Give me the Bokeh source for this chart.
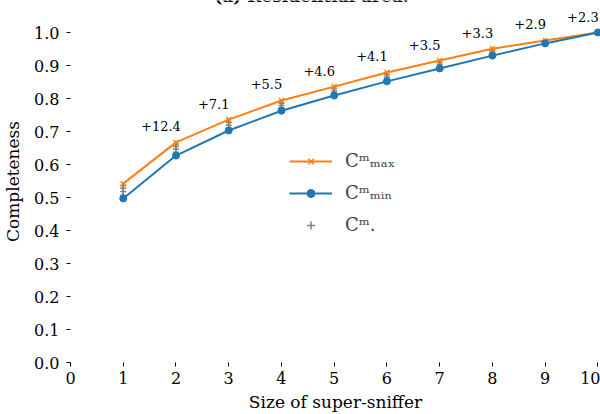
from bokeh.plotting import figure
from bokeh.models import FixedTicker, Range1d, Legend, LegendItem, Label, ColumnDataSource
from bokeh.core.properties import value
from bokeh.embed import file_html
from bokeh.resources import INLINE

sizes = [1, 2, 3, 4, 5, 6, 7, 8, 9, 10]
c_max = [0.542, 0.667, 0.736, 0.794, 0.836, 0.879, 0.915, 0.951, 0.976, 1.0]
c_min = [0.497, 0.627, 0.703, 0.763, 0.809, 0.852, 0.891, 0.930, 0.967, 1.0]
gray_x = [1, 1, 1, 1, 2, 2, 2, 2, 3, 3, 3, 4, 4, 4, 5, 5, 5, 6, 6, 6, 7, 7, 7, 8, 8, 8, 9, 9, 10]
gray_y = [0.507, 0.518, 0.528, 0.536, 0.637, 0.647, 0.655, 0.662, 0.711, 0.719, 0.727,
          0.772, 0.779, 0.786, 0.816, 0.823, 0.830, 0.858, 0.865, 0.872, 0.897, 0.903, 0.909,
          0.935, 0.941, 0.946, 0.970, 0.973, 1.0]
gain_labels = ["+12.4", "+7.1", "+5.5", "+4.6", "+4.1", "+3.5", "+3.3", "+2.9", "+2.3"]
x_ticks = [0, 1, 2, 3, 4, 5, 6, 7, 8, 9, 10]
y_ticks = [0.0, 0.1, 0.2, 0.3, 0.4, 0.5, 0.6, 0.7, 0.8, 0.9, 1.0]

FONT = "'DejaVu Serif', serif"

p = figure(width=600, height=414, output_backend="svg", toolbar_location=None,
           x_range=Range1d(0, 10.05), y_range=Range1d(0, 1.097),
           min_border_left=0, min_border_right=0, min_border_top=0, min_border_bottom=0)
p.outline_line_color = None
p.grid.visible = False
p.background_fill_color = "white"

for ax in (p.xaxis[0], p.yaxis[0]):
    ax.axis_line_color = None
    ax.major_tick_in = 0
    ax.major_tick_out = 4
    ax.minor_tick_line_color = None
    ax.major_tick_line_color = "black"
    ax.major_label_text_font = FONT
    ax.major_label_text_font_size = "16px"
    ax.major_label_text_color = "black"
    ax.axis_label_text_font = FONT
    ax.axis_label_text_font_size = "17px"
    ax.axis_label_text_font_style = "normal"
    ax.axis_label_text_color = "black"

p.xaxis.ticker = FixedTicker(ticks=x_ticks)
p.yaxis.ticker = FixedTicker(ticks=y_ticks)
p.yaxis.major_label_overrides = {t: f"{t:.1f}" for t in y_ticks}
p.xaxis.axis_label = "Size of super-sniffer"
p.yaxis.axis_label = "Completeness"
p.xaxis.major_label_standoff = 5
p.xaxis.axis_label_standoff = 5
p.yaxis.major_label_standoff = 7
p.yaxis.axis_label_standoff = 8

gray_r = p.scatter(gray_x, gray_y, marker="cross", size=6, color="#808080", line_width=1.5)
max_l = p.line(sizes, c_max, color="#ff7f0e", line_width=2)
max_m = p.scatter(sizes, c_max, marker="x", size=7, color="#ff7f0e", line_width=1.5)
min_l = p.line(sizes, c_min, color="#1f77b4", line_width=2)
min_m = p.scatter(sizes, c_min, marker="circle", size=7, color="#1f77b4")

src = ColumnDataSource(dict(x=sizes[1:], y=c_max[1:], t=gain_labels))
p.text(x="x", y="y", text="t", source=src, x_offset=-15, y_offset=-16,
       text_align="center", text_baseline="middle", text_font=value(FONT),
       text_font_size="13px", text_color="black")

legend = Legend(items=[
    LegendItem(label="Cᵐₘₐₓ", renderers=[max_l, max_m]),
    LegendItem(label="Cᵐₘᵢₙ", renderers=[min_l, min_m]),
    LegendItem(label="Cᵐ.", renderers=[gray_r]),
], location=(219, 127))
legend.border_line_color = None
legend.background_fill_alpha = 0
legend.label_text_font = FONT
legend.label_text_font_size = "18px"
legend.glyph_width = 43
legend.glyph_height = 20
legend.spacing = 11
legend.label_standoff = 13
legend.padding = 4
p.add_layout(legend)

title = Label(x=4.57, y=1.112, text="(a) Residential area.", text_align="center",
              text_baseline="alphabetic", text_font=FONT, text_font_size="17px",
              text_font_style="bold", text_color="black")
p.add_layout(title)

open("out.html", "w").write(file_html(p, INLINE))
